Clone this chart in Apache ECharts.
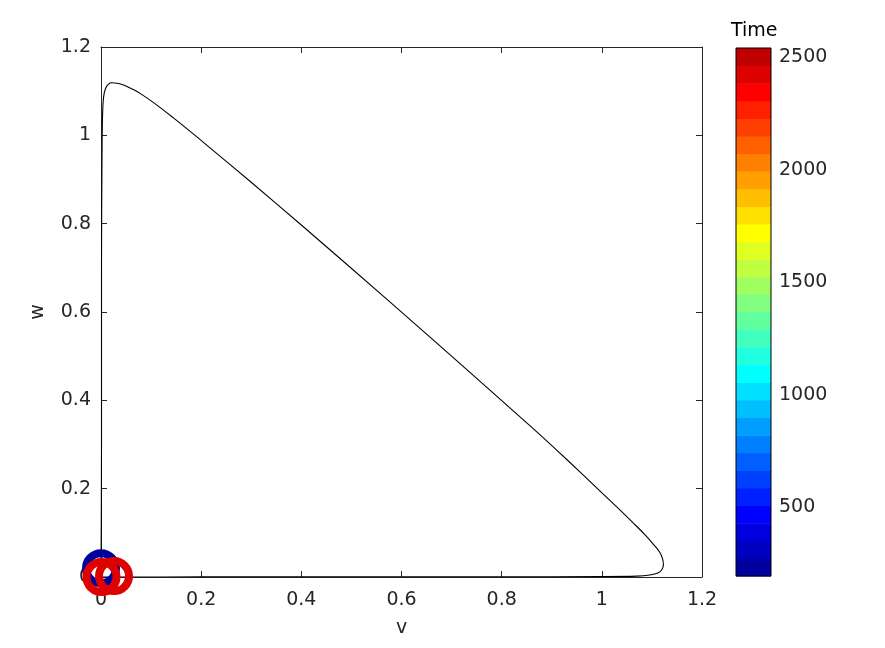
<!DOCTYPE html>
<html>
<head>
<meta charset="utf-8">
<script src="https://cdn.jsdelivr.net/npm/echarts@6/dist/echarts.min.js"></script>
<style>html,body{margin:0;padding:0;background:#fff}#c{width:885px;height:648px}</style>
</head>
<body>
<div id="c"></div>
<script>
// ---- data ----
const vValues = [0, 0.001, 0.001, 0.002, 0.003, 0.005, 0.009, 0.015, 0.022, 0.032, 0.045, 0.060, 0.078, 0.111, 0.144, 0.178, 0.211, 0.2975, 0.400, 0.5705, 0.700, 0.863, 0.930, 0.996, 1.035, 1.063, 1.085, 1.103, 1.115, 1.121, 1.123, 1.120, 1.112, 1.096, 1.070, 1.000, 0.800, 0.500, 0.200, 0.050, 0];
const wValues = [0, 0.300, 0.700, 0.950, 1.040, 1.085, 1.106, 1.116, 1.119, 1.118, 1.114, 1.106, 1.095, 1.069, 1.040, 1.009, 0.978, 0.896, 0.797, 0.629, 0.500, 0.336, 0.266, 0.195, 0.153, 0.122, 0.097, 0.074, 0.057, 0.042, 0.028, 0.017, 0.009, 0.0045, 0.002, 0.001, 0.0005, 0.0003, 0.0002, 0.0001, 0];
const markerV = [0.000, 0.001, 0.026];
const markerW = [0.020, 0.000, 0.002];
const markerTime = [240, 2420, 2420];
const axisTicks = [0, 0.2, 0.4, 0.6, 0.8, 1, 1.2];
const timeTicks = [500, 1000, 1500, 2000, 2500];
const timeMin = 195;
const timeMax = 2542;
const nLevels = 30;
const xName = 'v';
const yName = 'w';
const cbarTitle = 'Time';

// ---- MATLAB-style jet colormap ----
function jetMap(n){
  const m = Math.ceil(n/4);
  const u = [];
  for (let i=1;i<=m;i++) u.push(i/m);
  for (let i=0;i<m-1;i++) u.push(1);
  for (let i=m;i>=1;i--) u.push(i/m);
  const off = Math.ceil(m/2) - ((n%4)===1 ? 1 : 0);
  const J = [];
  for (let i=0;i<n;i++) J.push([0,0,0]);
  const g = [], r = [], b = [];
  for (let i=1;i<=u.length;i++){ g.push(off+i); r.push(off+i+m); b.push(off+i-m); }
  const gk = g.filter(x=>x<=n), rk = r.filter(x=>x<=n), bk = b.filter(x=>x>=1);
  rk.forEach((idx,k)=>{ J[idx-1][0] = u[k]; });
  gk.forEach((idx,k)=>{ J[idx-1][1] = u[k]; });
  bk.forEach((idx,k)=>{ J[idx-1][2] = u[u.length - bk.length + k]; });
  return J.map(c=>'rgb(' + Math.round(c[0]*255) + ',' + Math.round(c[1]*255) + ',' + Math.round(c[2]*255) + ')');
}
const cmap = jetMap(nLevels);
function timeColor(tm){
  const k = Math.min(nLevels-1, Math.max(0, Math.floor((tm - timeMin)/(timeMax - timeMin)*nLevels)));
  return cmap[k];
}
const curve = vValues.map((v,i)=>[v, wValues[i]]);
const markers = markerV.map((v,i)=>({value:[v, markerW[i]], itemStyle:{borderColor: timeColor(markerTime[i])}}));
const step = (timeMax - timeMin)/nLevels;
const bands = [];
for (let i=0;i<nLevels;i++) bands.push([timeMin + i*step, timeMin + (i+1)*step, i]);

const txt = '#262626';
const font = 'DejaVu Sans';
const fs = 19;

const chart = echarts.init(document.getElementById('c'), null, {renderer:'canvas'});
const hiddenAxisCommon = {
  axisLabel:{show:false}, splitLine:{show:false},
  axisLine:{show:true, onZero:false, lineStyle:{color:txt, width:1}},
  axisTick:{show:true, inside:true, length:6, lineStyle:{color:txt}}
};
chart.setOption({
  animation:false,
  textStyle:{fontFamily:font},
  grid:[
    {left:101, top:47, width:601, height:530, containLabel:false},
    {left:736, top:48, width:35, height:528, show:true, borderColor:'#000', borderWidth:1, backgroundColor:'transparent', z:5}
  ],
  xAxis:[
    {type:'value', gridIndex:0, min:0, max:1.2, interval:0.2, position:'bottom',
     name:xName, nameLocation:'middle', nameGap:42, nameTextStyle:{color:txt, fontSize:fs, fontFamily:font},
     axisLine:{show:true, onZero:false, lineStyle:{color:txt, width:1}},
     axisTick:{show:true, inside:true, length:6, lineStyle:{color:txt}},
     axisLabel:{color:txt, fontSize:fs, fontFamily:font, margin:14,
       customValues: axisTicks, formatter: v => String(v)},
     splitLine:{show:false}},
    Object.assign({type:'value', gridIndex:0, min:0, max:1.2, interval:0.2, position:'top'}, hiddenAxisCommon),
    {type:'value', gridIndex:1, min:0, max:1, show:false}
  ],
  yAxis:[
    {type:'value', gridIndex:0, min:0, max:1.2, interval:0.2, position:'left',
     name:yName, nameLocation:'middle', nameGap:53, nameRotate:90, nameTextStyle:{color:txt, fontSize:fs, fontFamily:font},
     axisLine:{show:true, onZero:false, lineStyle:{color:txt, width:1}},
     axisTick:{show:true, inside:true, length:6, lineStyle:{color:txt}},
     axisLabel:{color:txt, fontSize:fs, fontFamily:font, margin:10, padding:[5,0,0,0], formatter: v => String(v)},
     splitLine:{show:false}},
    Object.assign({type:'value', gridIndex:0, min:0, max:1.2, interval:0.2, position:'right'}, hiddenAxisCommon),
    {type:'value', gridIndex:1, min:timeMin, max:timeMax, position:'right',
     axisLine:{show:false, onZero:false},
     axisTick:{show:true, inside:true, length:4, lineStyle:{color:txt}, customValues: timeTicks},
     axisLabel:{color:txt, fontSize:fs, fontFamily:font, margin:8, customValues: timeTicks, formatter: v => String(v)},
     splitLine:{show:false}}
  ],
  graphic:[
    {type:'text', left:731, top:22, style:{text:cbarTitle, fill:'#000', font: fs + 'px "' + font + '"'}}
  ],
  series:[
    {type:'line', xAxisIndex:0, yAxisIndex:0, data:curve, showSymbol:false, symbol:'none', smooth:0.3,
     lineStyle:{color:'#000', width:1.1}, z:2, clip:true},
    {type:'scatter', xAxisIndex:0, yAxisIndex:0, data:markers, symbol:'circle', symbolSize:30,
     itemStyle:{color:'rgba(0,0,0,0)', borderWidth:8, opacity:1}, z:3, clip:false},
    {type:'custom', xAxisIndex:2, yAxisIndex:2, data:bands, z:1,
     renderItem:(params, api)=>{
       const p0 = api.coord([0, api.value(0)]);
       const p1 = api.coord([1, api.value(1)]);
       return {type:'rect', shape:{x:p0[0], y:p1[1], width:p1[0]-p0[0], height:p0[1]-p1[1]+0.5},
         style:{fill: cmap[api.value(2)]}};
     }}
  ]
});
</script>
</body>
</html>
